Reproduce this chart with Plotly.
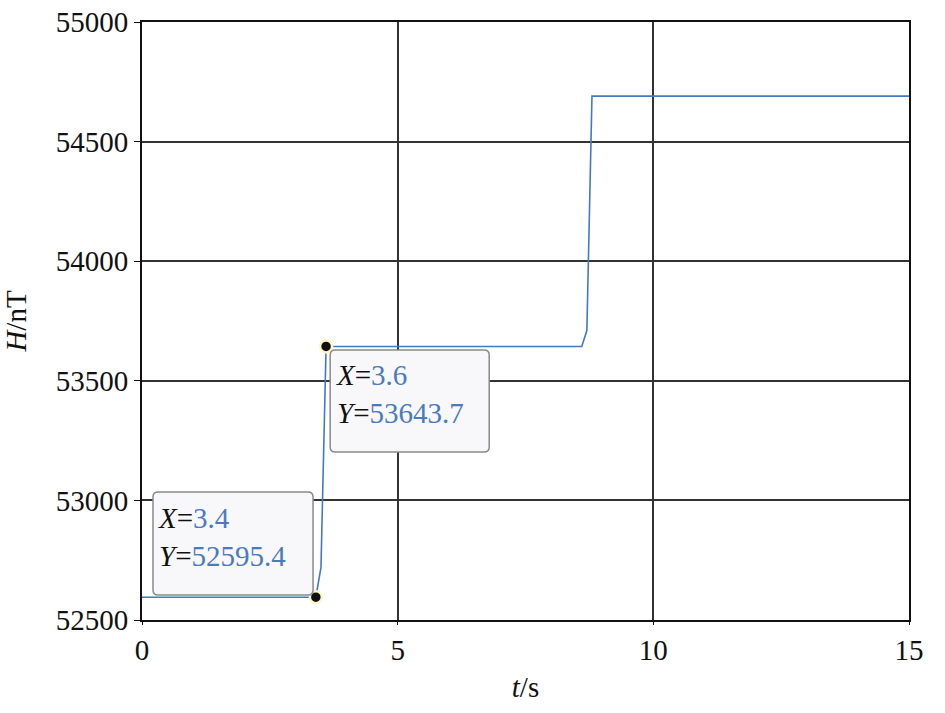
import plotly.graph_objects as go

# Data (vertices of the measured curve)
t_s = [0, 3.4, 3.5, 3.6, 8.6, 8.7, 8.8, 15]
H_nT = [52595.4, 52595.4, 52720, 53643.7, 53643.7, 53710, 54690, 54690]

# Marked points
mark_t = [3.4, 3.6]
mark_H = [52595.4, 53643.7]
mark_xlabel = ["3.4", "3.6"]
mark_ylabel = ["52595.4", "53643.7"]

# Label box placement (data units)
box_x0 = [0.215, 3.68]
box_x1 = [3.345, 6.79]
box_y0 = [52604, 53202]
box_y1 = [53035, 53629]
text_x = [0.27, 3.75]
text_y = [52847, 53445]

x_ticks = [0, 5, 10, 15]
y_ticks = [52500, 53000, 53500, 54000, 54500, 55000]

FONT = "Liberation Serif, Times New Roman, serif"
LINE = "#4279c6"
VAL = "#4a7bbf"
GRID = "#333333"

fig = go.Figure()
fig.add_trace(go.Scatter(x=t_s, y=H_nT, mode="lines",
                         line=dict(color=LINE, width=1.6), showlegend=False,
                         hoverinfo="skip"))
fig.add_trace(go.Scatter(x=mark_t, y=mark_H, mode="markers",
                         marker=dict(color="#111111", size=12,
                                     line=dict(color="#fdf6c8", width=2.5)),
                         showlegend=False, hoverinfo="skip", cliponaxis=False))


def rounded(x0, x1, y0, y1, rx, ry):
    return (f"M {x0+rx},{y1} L {x1-rx},{y1} Q {x1},{y1} {x1},{y1-ry} "
            f"L {x1},{y0+ry} Q {x1},{y0} {x1-rx},{y0} "
            f"L {x0+rx},{y0} Q {x0},{y0} {x0},{y0+ry} "
            f"L {x0},{y1-ry} Q {x0},{y1} {x0+rx},{y1} Z")


for i in range(len(mark_t)):
    fig.add_shape(type="path", xref="x", yref="y",
                  path=rounded(box_x0[i], box_x1[i], box_y0[i], box_y1[i], 0.1, 21),
                  fillcolor="#f8f8fa", line=dict(color="#8a8a8a", width=1.5),
                  layer="above")
    fig.add_annotation(
        x=text_x[i], y=text_y[i], xref="x", yref="y",
        xanchor="left", yanchor="middle", showarrow=False, align="left",
        text=(f"<i>X</i>=<span style='color:{VAL}'>{mark_xlabel[i]}</span><br>"
              f"<i>Y</i>=<span style='color:{VAL}'>{mark_ylabel[i]}</span>"),
        font=dict(family=FONT, size=29, color="#111111"),
    )

fig.update_xaxes(range=[0, 15], tickvals=x_ticks, ticktext=[str(v) for v in x_ticks],
                 showgrid=True, gridcolor=GRID, gridwidth=2,
                 showline=True, linecolor="#111111", linewidth=2, mirror=True,
                 ticks="outside", ticklen=3, tickcolor="#111111", zeroline=False,
                 ticklabeloverflow="allow",
                 tickfont=dict(family=FONT, size=29, color="#111111"),
                 title=dict(text="<i>t</i>/s", font=dict(family=FONT, size=29, color="#111111"),
                            standoff=12))
fig.update_yaxes(range=[52500, 55000], tickvals=y_ticks, ticktext=[str(v) for v in y_ticks],
                 showgrid=True, gridcolor=GRID, gridwidth=2,
                 showline=True, linecolor="#111111", linewidth=2, mirror=True,
                 ticks="outside", ticklen=6, tickcolor="#111111", zeroline=False,
                 ticklabeloverflow="allow",
                 tickfont=dict(family=FONT, size=29, color="#111111"),
                 title=dict(text="<i>H</i>/nT", font=dict(family=FONT, size=29, color="#111111"),
                            standoff=32))

fig.update_layout(width=945, height=713, margin=dict(l=142, r=36, t=22, b=93, autoexpand=False),
                  plot_bgcolor="white", paper_bgcolor="white")

fig.write_html("out.html", config={"displayModeBar": False, "staticPlot": True},
               post_script="document.body.style.margin='0';document.body.style.overflow='hidden';")
